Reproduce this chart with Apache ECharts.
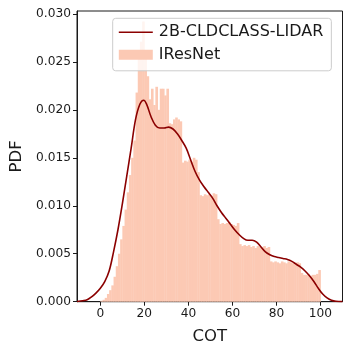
<!DOCTYPE html>
<html>
<head>
<meta charset="utf-8">
<script src="https://cdn.jsdelivr.net/npm/echarts@6/dist/echarts.min.js"></script>
<style>
  html, body { margin: 0; padding: 0; background: #fff; }
  #main { width: 352px; height: 352px; }
</style>
</head>
<body>
<div id="main"></div>
<script>
// histogram of IResNet COT, bins of width 1 starting at 0
const binStart = 0
const binWidth = 1
const histValues = [
  0.0001, 0.0002, 0.0004, 0.0008, 0.0012, 0.0017, 0.0026, 0.0037, 0.0050, 0.0065,
  0.0079, 0.0096, 0.0114, 0.0132, 0.0150, 0.0168, 0.0218, 0.0253, 0.0271, 0.0292,
  0.0262, 0.0235, 0.0211, 0.0222, 0.0205, 0.0224, 0.0200, 0.0222, 0.0222, 0.0215,
  0.0222, 0.0186, 0.0185, 0.0190, 0.0192, 0.0190, 0.0188, 0.0145, 0.0147, 0.0146,
  0.0148, 0.0146, 0.0150, 0.0148, 0.0135, 0.0111, 0.0110, 0.0112, 0.0111, 0.0112,
  0.0110, 0.0113, 0.0112, 0.0086, 0.0081, 0.0082, 0.0081, 0.0082, 0.0083, 0.0081,
  0.0080, 0.0079, 0.0082, 0.0060, 0.0058, 0.0059, 0.0058, 0.0059, 0.0057, 0.0058,
  0.0056, 0.0058, 0.0057, 0.0057, 0.0058, 0.0056, 0.0057, 0.0042, 0.0041, 0.0042,
  0.0041, 0.0040, 0.0042, 0.0041, 0.0040, 0.0042, 0.0041, 0.0040, 0.0039, 0.0041,
  0.0040, 0.0030, 0.0028, 0.0028, 0.0029, 0.0027, 0.0028, 0.0028, 0.0029, 0.0033
]

// KDE curve of 2B-CLDCLASS-LIDAR
const kdeX = [
  -10.6, -8, -6, -4, -2, 0, 2, 4, 6, 8, 10, 12, 14, 16, 18, 19.7, 21, 23, 25, 27,
  29, 31, 33, 35, 37, 39, 41, 43, 45, 47, 49, 51, 53, 55, 57, 59, 61, 63, 65, 67,
  69, 71, 73, 75, 77, 79, 81, 83, 85, 87, 89, 91, 93, 95, 97, 99, 101, 103, 105, 107, 110
]
const kdeY = [
  0.00002, 0.0001, 0.0002, 0.0005, 0.0009, 0.0014, 0.0021, 0.0032, 0.0052, 0.0075,
  0.0102, 0.0131, 0.0160, 0.0190, 0.0206, 0.0210, 0.0206, 0.0193, 0.0184, 0.0181,
  0.0181, 0.0182, 0.0180, 0.0175, 0.0168, 0.0160, 0.0148, 0.0136, 0.0127, 0.0120,
  0.0114, 0.0108, 0.0100, 0.0093, 0.0087, 0.0081, 0.0075, 0.0070, 0.0066, 0.0064,
  0.0064, 0.0062, 0.0057, 0.0052, 0.0049, 0.0047, 0.0046, 0.0045, 0.0044, 0.0042,
  0.0039, 0.0036, 0.0032, 0.0027, 0.0021, 0.0014, 0.0008, 0.0004, 0.00015, 0.00004, 0.00001
]

const xTicks = [0, 20, 40, 60, 80, 100]
const yTicks = [0, 0.005, 0.010, 0.015, 0.020, 0.025, 0.030]

const lidarName = '2B-CLDCLASS-LIDAR'
const resnetName = 'IResNet'

const histData = histValues.map((v, i) => {
  const left = binStart + i * binWidth
  return [left, left + binWidth, v]
})
const kdeData = kdeX.map((x, i) => [x, kdeY[i]])

const chart = echarts.init(document.getElementById('main'))
const font = 'DejaVu Sans'
const ink = '#1a1a1a'

chart.setOption({
  animation: false,
  textStyle: { fontFamily: font },
  grid: {
    left: 75.5,
    right: 9.5,
    top: 11,
    bottom: 50.3,
    show: true,
    borderColor: ink,
    borderWidth: 1,
    backgroundColor: 'transparent'
  },
  legend: {
    orient: 'vertical',
    left: 112.7,
    top: 18.3,
    padding: [6, 8, 8, 5.3],
    itemWidth: 34,
    itemHeight: 10,
    itemGap: 6.5,
    backgroundColor: 'rgba(255,255,255,0.8)',
    borderColor: '#cccccc',
    borderWidth: 1,
    borderRadius: 3,
    textStyle: { fontFamily: font, fontSize: 16, lineHeight: 16, color: ink, padding: [0, 0, 0, 1] },
    data: [
      { name: lidarName, itemStyle: { opacity: 0 }, lineStyle: { width: 1.6 } },
      { name: resnetName, icon: 'rect' }
    ]
  },
  xAxis: {
    type: 'value',
    min: -10.6,
    max: 110,
    name: 'COT',
    nameLocation: 'middle',
    nameGap: 27,
    nameTextStyle: { fontFamily: font, fontSize: 16.5, color: ink },
    splitLine: { show: false },
    axisLine: { show: true, onZero: false, lineStyle: { color: ink, width: 1 } },
    axisTick: { show: true, length: 4, lineStyle: { color: ink }, customValues: xTicks },
    axisLabel: { fontFamily: font, fontSize: 12.2, color: ink, margin: 6, customValues: xTicks }
  },
  yAxis: {
    type: 'value',
    min: 0,
    max: 0.0303,
    name: 'PDF',
    nameLocation: 'middle',
    nameGap: 52,
    nameTextStyle: { fontFamily: font, fontSize: 16.5, color: ink },
    splitLine: { show: false },
    axisLine: { show: true, onZero: false, lineStyle: { color: ink, width: 1 } },
    axisTick: { show: true, length: 4, lineStyle: { color: ink }, customValues: yTicks },
    axisLabel: {
      fontFamily: font,
      fontSize: 12.2,
      color: ink,
      margin: 6,
      customValues: yTicks,
      formatter: (v) => v.toFixed(3)
    }
  },
  series: [
    {
      name: resnetName,
      type: 'custom',
      itemStyle: { color: '#fcc9b4' },
      z: 1,
      renderItem: (params, api) => {
        const p0 = api.coord([api.value(0), api.value(2)])
        const p1 = api.coord([api.value(1), 0])
        return {
          type: 'rect',
          shape: { x: p0[0], y: p0[1], width: p1[0] - p0[0] + 0.4, height: p1[1] - p0[1] },
          style: { fill: '#fcc9b4', stroke: null }
        }
      },
      encode: { x: [0, 1], y: 2 },
      data: histData
    },
    {
      name: lidarName,
      type: 'line',
      symbol: 'none',
      smooth: 0.35,
      z: 3,
      lineStyle: { color: '#8b0000', width: 1.6 },
      itemStyle: { color: '#8b0000' },
      data: kdeData
    }
  ]
})
</script>
</body>
</html>
